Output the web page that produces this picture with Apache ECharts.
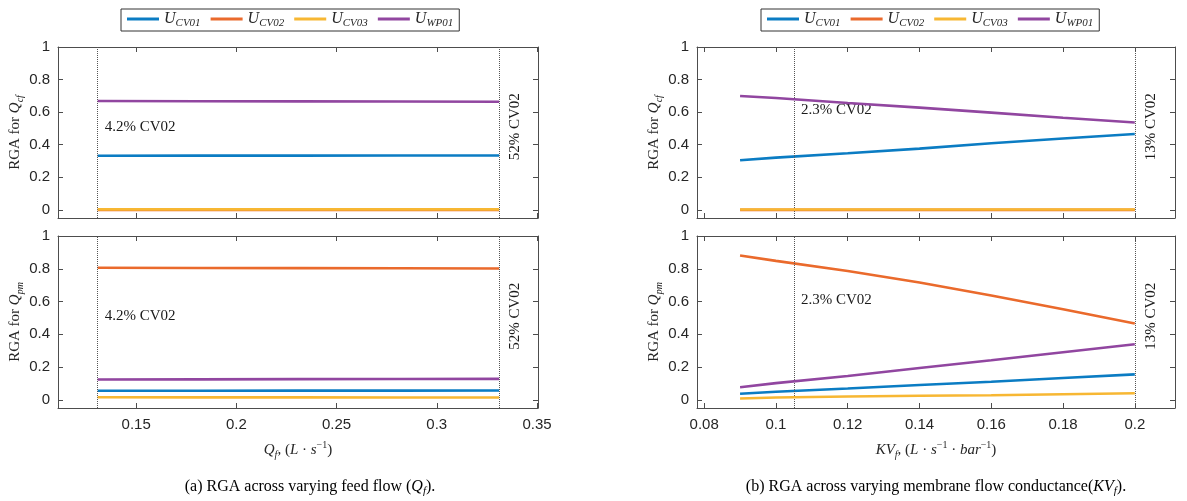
<!DOCTYPE html>
<html>
<head>
<meta charset="utf-8">
<script src="https://cdn.jsdelivr.net/npm/echarts@6/dist/echarts.min.js"></script>
<style>
  html, body { margin: 0; padding: 0; background: #fff; }
  #chart { width: 1187px; height: 501px; }
</style>
</head>
<body>
<div id="chart"></div>
<script type="text/javascript">

// ---- data ----
var names = ['U_CV01', 'U_CV02', 'U_CV03', 'U_WP01'];
var colors = ['#0b7cc3', '#ea6a2c', '#f7b733', '#9146a0'];

// (a) varying feed flow Q_f
var leftX = [0.1308, 0.181, 0.231, 0.281, 0.3311];
var leftTopCV01 = [0.332, 0.333, 0.333, 0.334, 0.334];
var leftTopCV02 = [0.000, 0.000, 0.000, 0.000, 0.000];
var leftTopCV03 = [0.003, 0.003, 0.003, 0.003, 0.003];
var leftTopWP01 = [0.668, 0.667, 0.666, 0.665, 0.664];
var leftBotCV01 = [0.055, 0.055, 0.056, 0.056, 0.057];
var leftBotCV02 = [0.806, 0.805, 0.804, 0.803, 0.802];
var leftBotCV03 = [0.016, 0.015, 0.015, 0.014, 0.014];
var leftBotWP01 = [0.124, 0.125, 0.126, 0.127, 0.128];
var leftMarks = [0.1308, 0.3311];
var leftMarkText = ['4.2% CV02', '52% CV02'];
var leftTicks = [0.15, 0.2, 0.25, 0.3, 0.35];

// (b) varying membrane flow conductance KV_f
var rightX = [0.09, 0.10, 0.12, 0.14, 0.16, 0.18, 0.20];
var rightTopCV01 = [0.305, 0.321, 0.348, 0.376, 0.409, 0.438, 0.466];
var rightTopCV02 = [0.000, 0.000, 0.000, 0.000, 0.000, 0.000, 0.000];
var rightTopCV03 = [0.002, 0.002, 0.002, 0.002, 0.002, 0.002, 0.002];
var rightTopWP01 = [0.699, 0.687, 0.656, 0.628, 0.597, 0.566, 0.536];
var rightBotCV01 = [0.037, 0.049, 0.069, 0.090, 0.110, 0.133, 0.155];
var rightBotCV02 = [0.881, 0.848, 0.786, 0.716, 0.637, 0.553, 0.466];
var rightBotCV03 = [0.008, 0.014, 0.020, 0.025, 0.028, 0.034, 0.040];
var rightBotWP01 = [0.077, 0.102, 0.145, 0.194, 0.241, 0.290, 0.339];
var rightMarks = [0.105, 0.2];
var rightMarkText = ['2.3% CV02', '13% CV02'];
var rightTicks = [0.08, 0.1, 0.12, 0.14, 0.16, 0.18, 0.2];

var yTicks = [0, 0.2, 0.4, 0.6, 0.8, 1];

// ---- styling helpers ----
var serif = "'Liberation Serif', 'DejaVu Serif', serif";
var sans = "'Liberation Sans', Arial, sans-serif";
var axisCol = '#4d4d4d';
var textCol = '#262626';

var rich = {
    r: { fontFamily: serif, fontSize: 15, color: textCol, lineHeight: 20 },
    i: { fontFamily: serif, fontSize: 15, fontStyle: 'italic', color: textCol, lineHeight: 20 },
    s: { fontFamily: serif, fontSize: 10, fontStyle: 'italic', color: textCol, verticalAlign: 'bottom', lineHeight: 12 },
    p: { fontFamily: serif, fontSize: 10, color: textCol, verticalAlign: 'top', lineHeight: 12 }
};
var capRich = {
    r: { fontFamily: serif, fontSize: 16, color: '#111', lineHeight: 20 },
    i: { fontFamily: serif, fontSize: 16, fontStyle: 'italic', color: '#111', lineHeight: 20 },
    s: { fontFamily: serif, fontSize: 11, fontStyle: 'italic', color: '#111', verticalAlign: 'bottom', lineHeight: 12 }
};

function zip(xs, ys) {
    var out = [];
    for (var i = 0; i < xs.length; i++) out.push([xs[i], ys[i]]);
    return out;
}

var grids = [
    { left: 58, top: 47, width: 480, height: 171 },
    { left: 58, top: 236, width: 480, height: 172 },
    { left: 697, top: 47, width: 478, height: 171 },
    { left: 697, top: 236, width: 478, height: 172 }
];

var xAxis = [];
var yAxis = [];

function addAxes(g, min, max, ticks, showLabel, xName, yName) {
    var line = { show: true, onZero: false, lineStyle: { color: axisCol, width: 1 } };
    var tick = { show: true, inside: true, length: 5, customValues: ticks, lineStyle: { color: axisCol } };
    xAxis.push({
        gridIndex: g, type: 'value', min: min, max: max, position: 'bottom',
        axisLine: line, axisTick: tick, splitLine: { show: false },
        axisLabel: { show: showLabel, customValues: ticks, margin: 9, fontFamily: sans, fontSize: 15, color: textCol },
        name: xName, nameLocation: 'middle', nameGap: 32, nameTextStyle: { rich: rich }
    });
    xAxis.push({
        gridIndex: g, type: 'value', min: min, max: max, position: 'top',
        axisLine: line, axisTick: tick, splitLine: { show: false }, axisLabel: { show: false }
    });
    var ytick = { show: true, inside: true, length: 5, customValues: yTicks, lineStyle: { color: axisCol } };
    yAxis.push({
        gridIndex: g, type: 'value', min: -0.05, max: 1, position: 'left',
        axisLine: line, axisTick: ytick, splitLine: { show: false },
        axisLabel: { customValues: yTicks, margin: 8, fontFamily: sans, fontSize: 15, color: textCol },
        name: yName, nameLocation: 'middle', nameRotate: 90, nameGap: 31, nameTextStyle: { rich: rich }
    });
    yAxis.push({
        gridIndex: g, type: 'value', min: -0.05, max: 1, position: 'right',
        axisLine: line, axisTick: ytick, splitLine: { show: false }, axisLabel: { show: false }
    });
}

var nameCf = '{r|RGA for }{i|Q}{s|cf}';
var namePm = '{r|RGA for }{i|Q}{s|pm}';
addAxes(0, 0.111, 0.3505, leftTicks, false, '', nameCf);
addAxes(1, 0.111, 0.3505, leftTicks, true, '{i|Q}{s|f}{r|, (}{i|L}{r| · }{i|s}{p|−1}{r|)}', namePm);
addAxes(2, 0.078, 0.2112, rightTicks, false, '', nameCf);
addAxes(3, 0.078, 0.2112, rightTicks, true,
    '{i|KV}{s|f}{r|, (}{i|L}{r| · }{i|s}{p|−1}{r| · }{i|bar}{p|−1}{r|)}', namePm);

var panels = [
    { x: leftX, ys: [leftTopCV01, leftTopCV02, leftTopCV03, leftTopWP01], marks: leftMarks, text: leftMarkText, ty: 0.51 },
    { x: leftX, ys: [leftBotCV01, leftBotCV02, leftBotCV03, leftBotWP01], marks: leftMarks, text: leftMarkText, ty: 0.51 },
    { x: rightX, ys: [rightTopCV01, rightTopCV02, rightTopCV03, rightTopWP01], marks: rightMarks, text: rightMarkText, ty: 0.61 },
    { x: rightX, ys: [rightBotCV01, rightBotCV02, rightBotCV03, rightBotWP01], marks: rightMarks, text: rightMarkText, ty: 0.61 }
];

var series = [];
panels.forEach(function (p, g) {
    p.ys.forEach(function (ys, k) {
        var s = {
            name: names[k], type: 'line', xAxisIndex: 2 * g, yAxisIndex: 2 * g,
            symbol: 'none', data: zip(p.x, ys),
            lineStyle: { color: colors[k], width: 2.6 }, itemStyle: { color: colors[k] }, z: 3 + k
        };
        if (k === 3) {
            s.markLine = {
                silent: true, symbol: 'none', animation: false, precision: 4,
                lineStyle: { type: 'dotted', color: '#555', width: 1 },
                label: { show: false },
                data: [{ xAxis: p.marks[0] }, { xAxis: p.marks[1] }]
            };
            s.markPoint = {
                silent: true, symbol: 'circle', symbolSize: 0, animation: false,
                data: [
                    { coord: [p.marks[0], p.ty], label: { show: true, formatter: p.text[0], position: 'right', distance: 7 } },
                    { coord: [p.marks[1], 0.51], label: { show: true, formatter: p.text[1], position: 'right', distance: 16,
                        rotate: 90, align: 'center', verticalAlign: 'middle' } }
                ],
                label: { fontFamily: serif, fontSize: 15, color: '#1a1a1a' }
            };
        }
        series.push(s);
    });
});

function legendFmt(name) {
    return '{i|U}{s|' + name.split('_')[1] + '}';
}
function legendAt(left) {
    return {
        left: left, top: 9, orient: 'horizontal',
        data: names, icon: 'rect', itemWidth: 32, itemHeight: 3, itemGap: 10,
        padding: [2, 6, 2, 6],
        borderColor: '#333', borderWidth: 1,
        formatter: legendFmt,
        textStyle: { rich: {
            i: { fontFamily: serif, fontSize: 16, fontStyle: 'italic', color: textCol, lineHeight: 20 },
            s: { fontFamily: serif, fontSize: 11, fontStyle: 'italic', color: textCol, verticalAlign: 'bottom', lineHeight: 12 }
        } }
    };
}

var chart = echarts.init(document.getElementById('chart'));
var option = {
    backgroundColor: '#ffffff',
    animation: false,
    grid: grids,
    xAxis: xAxis,
    yAxis: yAxis,
    legend: [legendAt(121), legendAt(761)],
    series: series,
    graphic: [
        {
            type: 'text', x: 310, y: 487,
            style: {
                text: '{r|(a) RGA across varying feed flow (}{i|Q}{s|f}{r|).}',
                rich: capRich, align: 'center', verticalAlign: 'middle'
            }
        },
        {
            type: 'text', x: 936, y: 487,
            style: {
                text: '{r|(b) RGA across varying membrane flow conductance(}{i|KV}{s|f}{r|).}',
                rich: capRich, align: 'center', verticalAlign: 'middle'
            }
        }
    ]
};
chart.setOption(option);
</script>
</body>
</html>
